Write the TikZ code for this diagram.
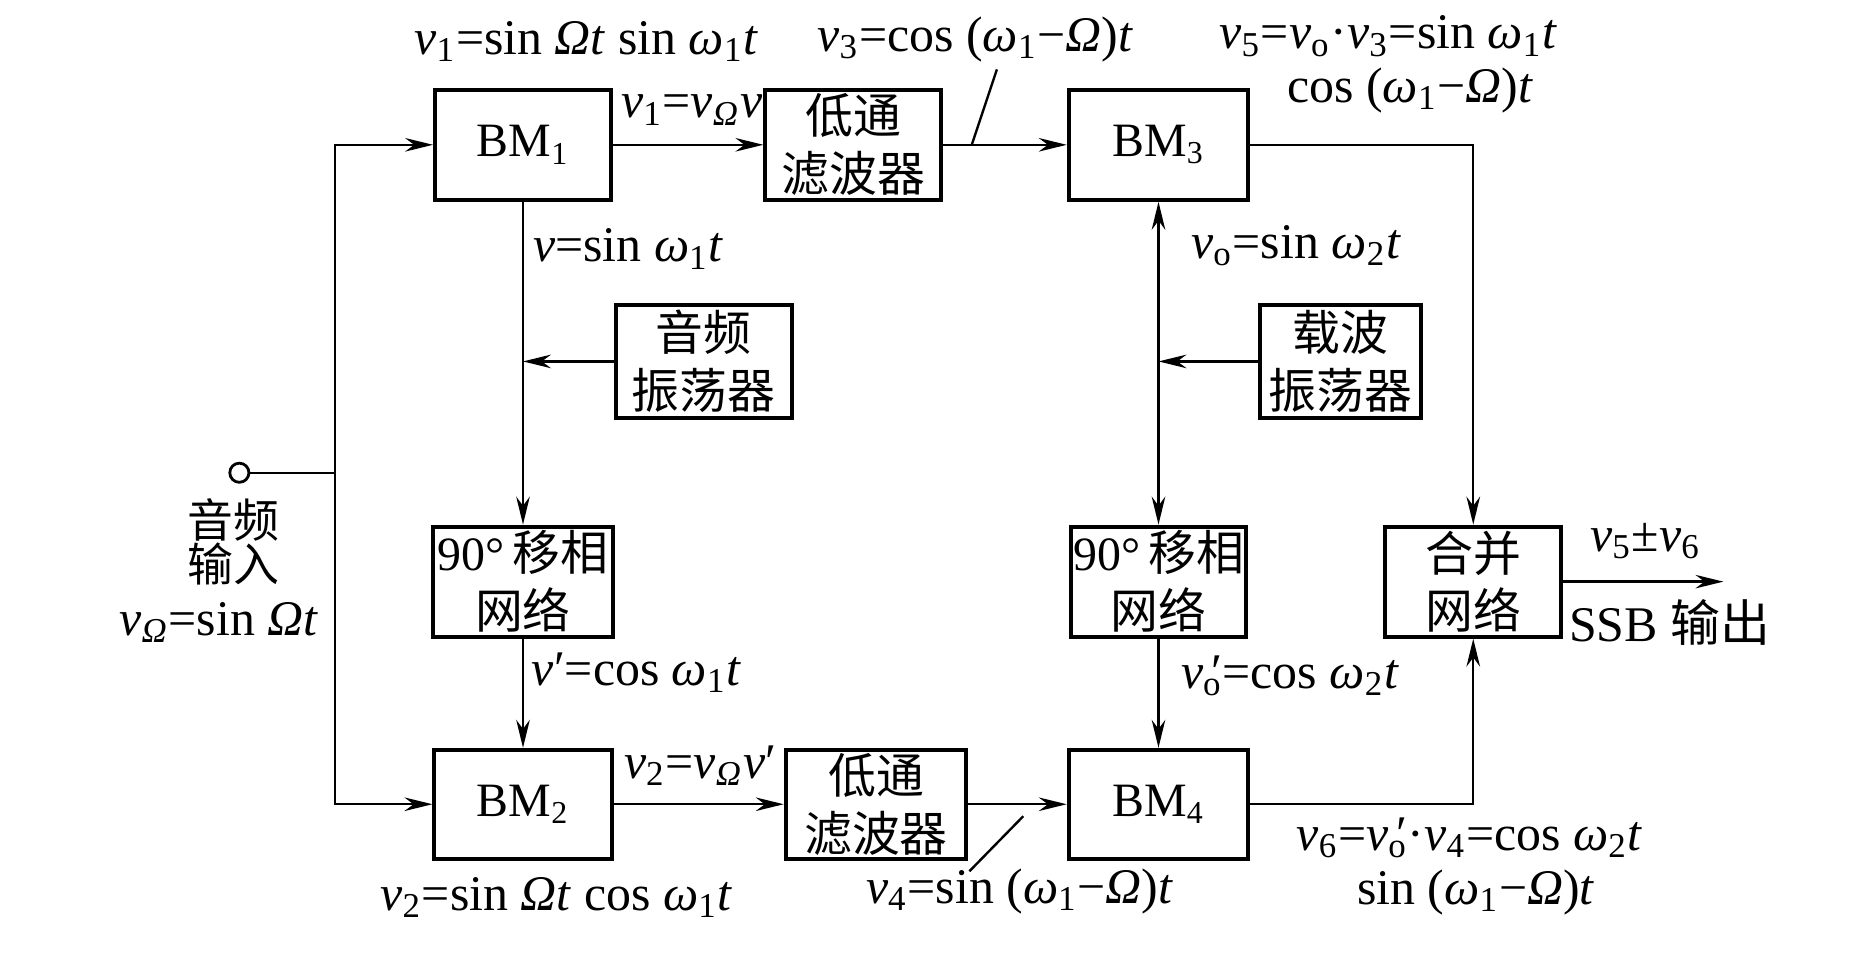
\documentclass[tikz,border=0pt]{standalone}
\usepackage{fontspec}
\setmainfont{Liberation Serif}
\newfontfamily\cjk{Noto Sans CJK SC}
\usetikzlibrary{arrows.meta}
\newcommand{\vq}{\textit{v}}
\newcommand{\subq}[1]{\textsubscript{#1}}
\newcommand{\Omq}{\textit{Ω}}
\newcommand{\omq}{\textit{ω}}
\newcommand{\tq}{\textit{t}}
\newcommand{\vpo}{\vq\rlap{\,′}\subq{o}}
\tikzset{
 box/.style={draw, line width=1pt, inner sep=0pt, align=center, font=\fontsize{12}{14.5}\selectfont},
 cbox/.style={box, font=\fontsize{12}{14.5}\selectfont\cjk},
 lab/.style={inner sep=0pt, align=center, font=\fontsize{12.5}{14}\selectfont},
 arr/.style={line width=0.6pt, -{Stealth[length=7pt,width=3.4pt]}},
 darr/.style={line width=0.6pt, {Stealth[length=7pt,width=3.4pt]}-{Stealth[length=7pt,width=3.4pt]}},
 ln/.style={line width=0.6pt},
}
\begin{document}
\begin{tikzpicture}[x=0.3pt,y=-0.3pt]
\useasboundingbox (0,0) rectangle (1560,803);
% boxes
\node[box, minimum width=44.1pt, minimum height=27.6pt] (bm1) at (437,121) {BM\subq{1}};
\node[cbox, minimum width=44.1pt, minimum height=27.6pt] (lpf1) at (713,121) {低通\\滤波器};
\node[box, minimum width=45pt, minimum height=27.6pt] (bm3) at (968,121) {BM\subq{3}};
\node[cbox, minimum width=44.1pt, minimum height=28.5pt] (ao) at (588,302) {音频\\振荡器};
\node[cbox, minimum width=40.5pt, minimum height=28.5pt] (co) at (1120,302) {载波\\振荡器};
\node[box, minimum width=45pt, minimum height=27.6pt] (ps1) at (437,486) {90°\,{\cjk 移相}\\{\cjk 网络}};
\node[box, minimum width=44.1pt, minimum height=27.6pt] (ps2) at (968,486) {90°\,{\cjk 移相}\\{\cjk 网络}};
\node[cbox, minimum width=44.1pt, minimum height=27.6pt] (cmb) at (1231,486) {合并\\网络};
\node[box, minimum width=44.4pt, minimum height=27.3pt] (bm2) at (437,672) {BM\subq{2}};
\node[cbox, minimum width=45.3pt, minimum height=27.3pt] (lpf2) at (732,672) {低通\\滤波器};
\node[box, minimum width=45pt, minimum height=27.3pt] (bm4) at (968,672) {BM\subq{4}};
% input
\node[draw, circle, line width=0.7pt, inner sep=0pt, minimum size=4.8pt] (inp) at (200,395) {};
\coordinate (jn) at (280,395);
\coordinate (m1) at (bm1.south |- ao.west);
\coordinate (m2) at (bm3.south |- co.west);
\coordinate (out) at (1440,486);
\coordinate (p1a) at (812,121);
\coordinate (p1b) at (833,58);
\coordinate (p2a) at (810,728);
\coordinate (p2b) at (855,682);
% connectors
\draw[ln] (inp.east) -- (jn);
\draw[arr] (jn) |- (bm1.west);
\draw[arr] (jn) |- (bm2.west);
\draw[arr] (bm1) -- (lpf1);
\draw[arr] (lpf1) -- (bm3);
\draw[arr] (bm3.east) -| (cmb.north);
\draw[arr] (bm1) -- (ps1);
\draw[arr] (ao) -- (m1);
\draw[arr] (ps1) -- (bm2);
\draw[arr] (bm2) -- (lpf2);
\draw[arr] (lpf2) -- (bm4);
\draw[arr] (bm4.east) -| (cmb.south);
\draw[darr] (bm3) -- (ps2);
\draw[arr] (co) -- (m2);
\draw[arr] (ps2) -- (bm4);
\draw[arr] (cmb) -- (out);
\draw[ln] (p1a) -- (p1b);
\draw[ln] (p2a) -- (p2b);
% labels
\node[lab] (l1) at (490,35) {\vq\subq{1}=sin \Omq\tq\ sin \omq\subq{1}\tq};
\node[lab] (l2) at (578,92) {\vq\subq{1}=\vq\subq{\Omq}\vq};
\node[lab] (l3) at (815,33) {\vq\subq{3}=cos (\omq\subq{1}−\Omq)\tq};
\node[lab, align=right, font=\fontsize{12.5}{13.5}\selectfont] (l5) at (1160,54) {\vq\subq{5}=\vq\subq{o}·\vq\subq{3}=sin \omq\subq{1}\tq\\cos (\omq\subq{1}−\Omq)\tq\hspace*{6pt}};
\node[lab] (l6) at (525,208) {\vq=sin \omq\subq{1}\tq};
\node[lab] (l7) at (1083,205) {\vq\subq{o}=sin \omq\subq{2}\tq};
\node[lab] (l8) at (532,562) {\vq′=cos \omq\subq{1}\tq};
\node[lab] (l9) at (1078,565) {\vpo=cos \omq\subq{2}\tq};
\node[lab] (l10) at (585,640) {\vq\subq{2}=\vq\subq{\Omq}\vq′};
\node[lab] (l11) at (465,750) {\vq\subq{2}=sin \Omq\tq\ cos \omq\subq{1}\tq};
\node[lab] (l12) at (852,745) {\vq\subq{4}=sin (\omq\subq{1}−\Omq)\tq};
\node[lab, align=right, font=\fontsize{12.5}{13.5}\selectfont] (l13) at (1228,724) {\vq\subq{6}=\vpo·\vq\subq{4}=cos \omq\subq{2}\tq\\sin (\omq\subq{1}−\Omq)\tq\hspace*{12pt}};
\node[lab] (l14) at (1375,452) {\vq\subq{5}±\vq\subq{6}};
\node[lab] (l15) at (1395,520) {SSB {\cjk 输出}};
\node[lab, font=\fontsize{11.5}{11}\selectfont\cjk] (l16) at (195,453) {音频\\输入};
\node[lab] (l17) at (183,520) {\vq\subq{\Omq}=sin \Omq\tq};
\end{tikzpicture}
\end{document}
